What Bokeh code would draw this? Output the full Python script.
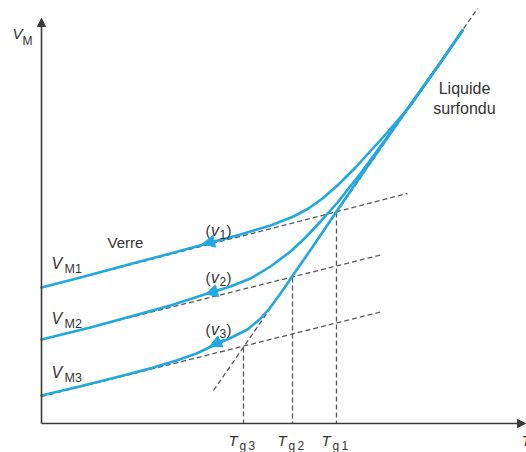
from bokeh.plotting import figure
from bokeh.models import Range1d, Arrow, NormalHead
from bokeh.core.properties import value
from bokeh.embed import file_html
from bokeh.resources import INLINE

# ---- data (temperature T, molar volume V, arbitrary units) ----
curve1_T = [0, 39, 89, 129, 162, 199, 229, 252, 267, 281, 297, 314, 344, 369, 399, 421]
curve1_V = [136, 146, 159.5, 170, 179, 189, 198, 207, 215, 225, 239, 256, 289, 318, 361, 393]

curve2_T = [0, 49, 89, 129, 166, 189, 209, 229, 249, 264, 279, 296, 319, 344, 369, 399, 421]
curve2_V = [84, 96, 107, 118, 130, 137, 145, 157, 172, 186, 202, 221, 250, 284, 319, 361, 393]

curve3_T = [0, 40, 80, 110, 135, 155, 172, 190, 206, 218, 228, 239, 252, 270, 295, 319, 344, 369, 399, 421]
curve3_V = [28, 37.5, 47.5, 55.5, 63, 70, 78, 86, 94, 104, 115, 130, 149, 175, 212, 247, 283, 319, 361, 393]

glass_T0 = [0, 0, 0]
glass_V0 = [136, 84, 27]
glass_T1 = [366, 341, 341]
glass_V1 = [230, 169, 112]

liquid_T = [172, 436]
liquid_V = [33, 415]

Tg_T = [295, 251, 202]          # Tg1, Tg2, Tg3
Tg_V = [211, 146, 76]
Tg_names = ["g\u20091", "g\u20092", "g\u20093"]

# arrows along the curves (start -> tip)
arr_T0 = [176, 180, 183]
arr_V0 = [183, 134, 84]
arr_T1 = [161, 164, 168]
arr_V1 = [179.5, 129.5, 77]

BLUE = "#22a8e0"
GREY = "#5a5a5a"
INK = "#333333"
FONT = value("Liberation Sans")

p = figure(width=526, height=452, output_backend="svg", toolbar_location=None,
           x_axis_type=None, y_axis_type=None, min_border=0,
           x_range=Range1d(-41, 485), y_range=Range1d(-29, 423))
p.outline_line_color = None
p.grid.visible = False
p.background_fill_color = "white"
p.border_fill_color = "white"

# dashed construction lines
p.segment(x0=glass_T0, y0=glass_V0, x1=glass_T1, y1=glass_V1,
          line_color=GREY, line_width=1.3, line_dash="5 3")
p.line(liquid_T, liquid_V, line_color=GREY, line_width=1.3, line_dash="5 3")
p.segment(x0=Tg_T, y0=Tg_V, x1=Tg_T, y1=[0, 0, 0],
          line_color=GREY, line_width=1.3, line_dash="5 3")

# cooling curves
for cT, cV in [(curve1_T, curve1_V), (curve2_T, curve2_V), (curve3_T, curve3_V)]:
    p.line(cT, cV, line_color=BLUE, line_width=2.6, line_join="round", line_cap="round")

for i in range(3):
    p.add_layout(Arrow(end=NormalHead(size=12, fill_color=BLUE, line_color=BLUE, line_width=1),
                       x_start=arr_T0[i], y_start=arr_V0[i], x_end=arr_T1[i], y_end=arr_V1[i],
                       line_color=BLUE, line_width=2))

# axes
AX = "#3a3a3a"
p.add_layout(Arrow(end=NormalHead(size=8, fill_color=AX, line_color=AX, line_width=1),
                   x_start=0, y_start=0, x_end=0, y_end=405, line_color=AX, line_width=1.6))
p.add_layout(Arrow(end=NormalHead(size=8, fill_color=AX, line_color=AX, line_width=1),
                   x_start=0, y_start=0, x_end=484, y_end=0, line_color=AX, line_width=1.6))

# ---- texts ----
def txt(x, y, s, size, style="normal", align="left"):
    p.text(x=[x], y=[y], text=[s], text_font=FONT, text_font_size=size,
           text_font_style=style, text_color=INK, text_align=align,
           text_baseline="alphabetic")

# axis label V_M
txt(-29, 390, "V", "15px", "italic")
txt(-19, 383, "M", "12px")

# V_M1..3
for k, vb in zip(["M1", "M2", "M3"], [160, 105, 51]):
    txt(10, vb, "V", "16px", "italic")
    txt(23, vb - 5, k, "12.5px")

txt(66, 181, "Verre", "15px")

# (v1)..(v3)
for n, vb in zip(["1", "2", "3"], [193, 146, 94]):
    txt(164, vb, "(", "15px")
    txt(169.5, vb, "v", "16px", "italic")
    txt(178, vb - 4, n, "12px")
    txt(185, vb, ")", "15px")

txt(423, 335, "Liquide", "16px", align="center")
txt(423, 315, "surfondu", "16px", align="center")

# Tg labels
for t, nm in zip(Tg_T, Tg_names):
    txt(t - 15, -17, "T", "15px", "italic")
    txt(t - 4, -22, nm, "12px")

# T axis label (cut by the right edge, as in the reference)
txt(480, -17, "T", "15px", "italic")

open("out.html", "w").write(file_html(p, INLINE))
